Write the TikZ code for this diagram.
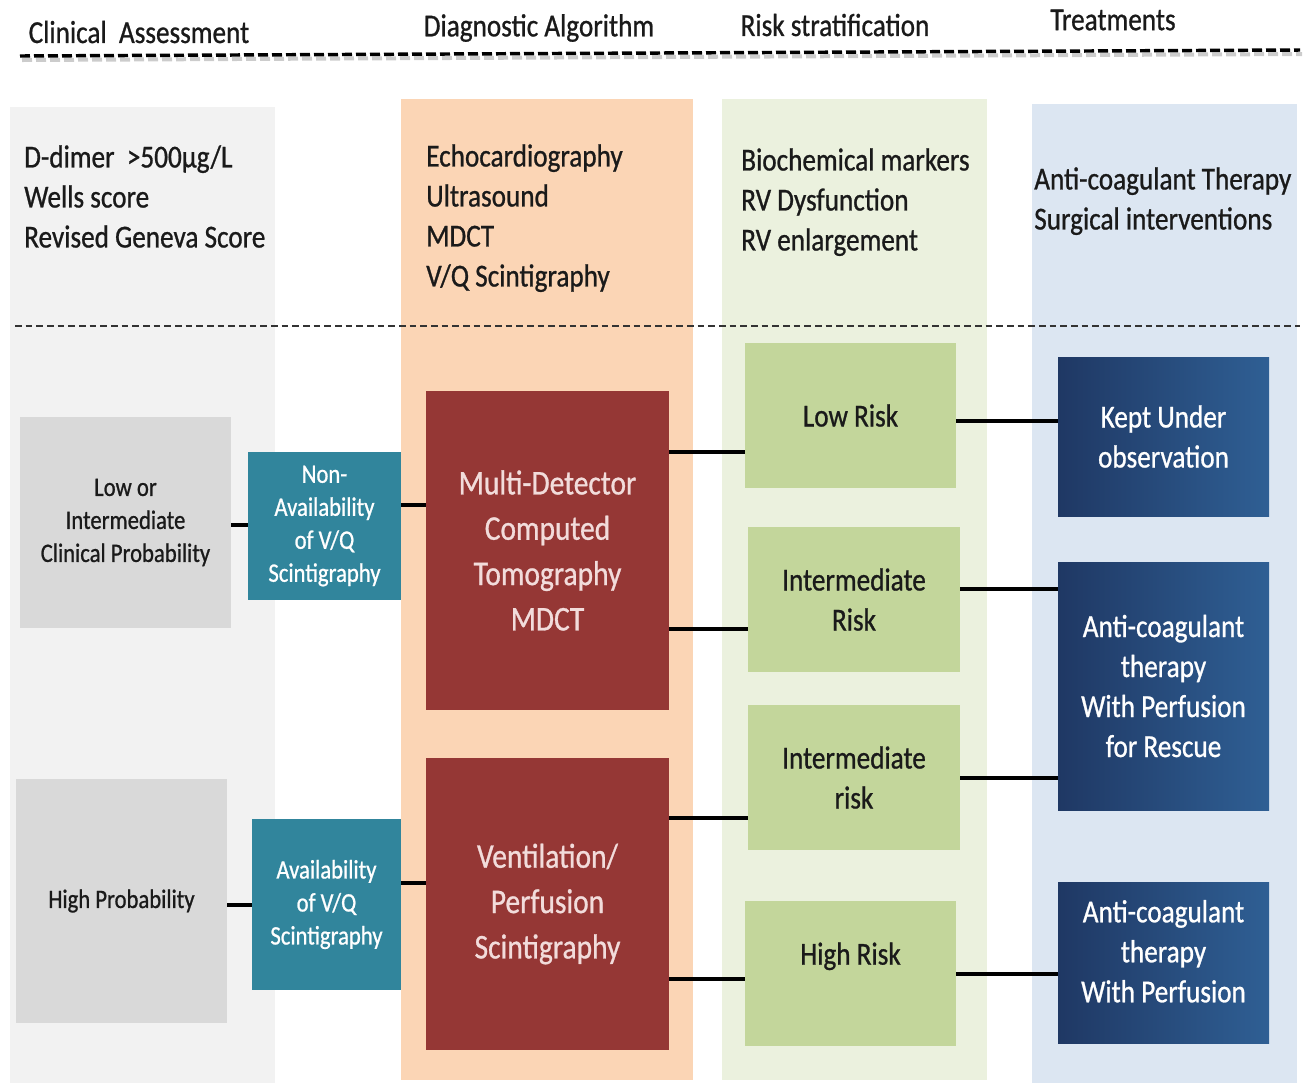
\documentclass[tikz,border=0pt]{standalone}
\usepackage{fontspec}
\setmainfont[FakeStretch=0.85,FakeBold=0.8]{Carlito}
\usepackage{tikz}

\definecolor{colgray}{HTML}{F2F2F2}
\definecolor{colpeach}{HTML}{FBD5B5}
\definecolor{colgreen}{HTML}{EBF1DE}
\definecolor{colblue}{HTML}{DCE6F2}
\definecolor{probgray}{HTML}{D9D9D9}
\definecolor{vqteal}{HTML}{31859C}
\definecolor{testred}{HTML}{953735}
\definecolor{testtext}{HTML}{F2DCDB}
\definecolor{riskgreen}{HTML}{C3D69B}
\definecolor{treatdark}{HTML}{1F3864}
\definecolor{treatlight}{HTML}{2F5F94}
\definecolor{inkdark}{HTML}{1A1A1A}

\begin{document}
\begin{tikzpicture}[x=0.75pt,y=-0.75pt,
	heading/.style={text=inkdark, font=\fontsize{24}{30}\selectfont},
	listtext/.style={anchor=north west, inner sep=0pt, align=left, text=inkdark,
		font=\fontsize{24}{30}\selectfont},
	probbox/.style={fill=probgray, minimum width=158.25pt, align=center, text=inkdark,
		font=\fontsize{20}{24.75}\selectfont},
	vqbox/.style={fill=vqteal, align=center, text=white, inner sep=0pt,
		font=\fontsize{20}{24.75}\selectfont},
	testbox/.style={fill=testred, minimum width=182.25pt, align=center, text=testtext,
		font=\fontsize{26}{34}\selectfont},
	riskbox/.style={fill=riskgreen, minimum height=108.75pt, align=center, text=inkdark,
		font=\fontsize{24}{30}\selectfont},
	treatbox/.style={left color=treatdark, right color=treatlight, minimum width=158.25pt,
		align=center, text=white, font=\fontsize{24}{30}\selectfont},
	link/.style={line width=2.4pt, black}]
	\useasboundingbox (0,0) rectangle (1309,1083);

	% column backgrounds
	\fill[colgray] (10,107) rectangle (275,1083);
	\fill[colpeach] (401,99) rectangle (693,1080);
	\fill[colgreen] (722,99) rectangle (987,1080);
	\fill[colblue] (1032,104) rectangle (1297,1083);

	% headings
	\node[heading] (hclin) at (139,32) {Clinical\ \ Assessment};
	\node[heading] (hdiag) at (539,28) {Diagnostic Algorithm};
	\node[heading] (hrisk) at (835,25) {Risk stratification};
	\node[heading] (htreat) at (1113,20) {Treatments};
	\draw[gray!40, line width=3pt, dash pattern=on 7.5pt off 3pt] (22,60) -- (1302,54);
	\draw[black, line width=2.6pt, dash pattern=on 7.5pt off 3pt] (20,56) -- (1300,50);

	% column lists
	\node[listtext] (lclin) at (24,145) {D-dimer\ \ >500µg/L\\Wells score\\Revised Geneva Score};
	\node[listtext] (ldiag) at (426,144) {Echocardiography\\Ultrasound\\MDCT\\V/Q Scintigraphy};
	\node[listtext] (lrisk) at (741,148) {Biochemical markers\\RV Dysfunction\\RV enlargement};
	\node[listtext] (ltreat) at (1034,167) {Anti-coagulant Therapy\\Surgical interventions};
	\draw[black!80, line width=1.2pt, dash pattern=on 5pt off 3pt] (15,326) -- (1300,326);

	% clinical probability
	\node[probbox, minimum height=158.25pt] (lowint) at (125.5,522.5) {Low or\\Intermediate\\Clinical Probability};
	\node[probbox, minimum height=183pt] (highprob) at (121.5,901) {High Probability};

	% availability of V/Q
	\node[vqbox, minimum width=114.75pt, minimum height=111pt] (nonavail) at (324.5,526)
		{Non-\\Availability\\of V/Q\\Scintigraphy};
	\node[vqbox, minimum width=111.75pt, minimum height=128.25pt] (avail) at (326.5,904.5)
		{Availability\\of V/Q\\Scintigraphy};

	% imaging tests
	\node[testbox, minimum height=239.25pt] (mdct) at (547.5,550.5)
		{Multi-Detector\\Computed\\Tomography\\MDCT};
	\node[testbox, minimum height=219pt] (vqscan) at (547.5,904)
		{Ventilation/\\Perfusion\\Scintigraphy};

	% risk classes
	\node[riskbox, minimum width=158.25pt] (lowrisk) at (850.5,415.5) {Low Risk};
	\node[riskbox, minimum width=159pt] (intrisk) at (854,599.5) {Intermediate\\Risk};
	\node[riskbox, minimum width=159pt] (intrisktwo) at (854,777.5) {Intermediate\\risk};
	\node[riskbox, minimum width=158.25pt, text depth=30pt] (highrisk) at (850.5,973.5) {High Risk};

	% treatments
	\node[treatbox, minimum height=119.25pt] (kept) at (1163.5,436.5) {Kept Under\\observation};
	\node[treatbox, minimum height=186pt] (rescue) at (1163.5,686)
		{Anti-coagulant\\therapy\\With Perfusion\\for Rescue};
	\node[treatbox, minimum height=120.75pt, text depth=17pt] (perf) at (1163.5,962.5)
		{Anti-coagulant\\therapy\\With Perfusion};

	% connectors
	\draw[link] (lowint.east |- 0,525) -- (nonavail.west |- 0,525);
	\draw[link] (nonavail.east |- 0,505) -- (mdct.west |- 0,505);
	\draw[link] (highprob.east |- 0,905) -- (avail.west |- 0,905);
	\draw[link] (avail.east |- 0,883) -- (vqscan.west |- 0,883);
	\draw[link] (mdct.east |- 0,452) -- (lowrisk.west |- 0,452);
	\draw[link] (mdct.east |- 0,629) -- (intrisk.west |- 0,629);
	\draw[link] (vqscan.east |- 0,818) -- (intrisktwo.west |- 0,818);
	\draw[link] (vqscan.east |- 0,979) -- (highrisk.west |- 0,979);
	\draw[link] (lowrisk.east |- 0,421) -- (kept.west |- 0,421);
	\draw[link] (intrisk.east |- 0,589) -- (rescue.west |- 0,589);
	\draw[link] (intrisktwo.east |- 0,778) -- (rescue.west |- 0,778);
	\draw[link] (highrisk.east |- 0,974) -- (perf.west |- 0,974);
\end{tikzpicture}
\end{document}
